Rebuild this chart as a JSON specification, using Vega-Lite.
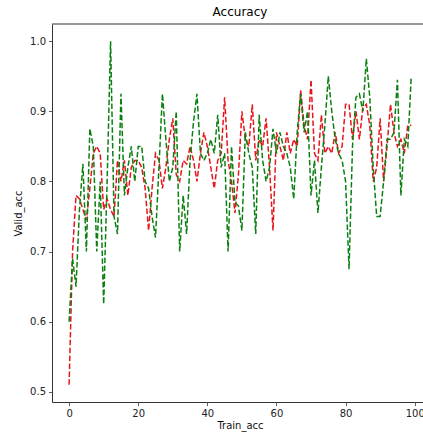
{
  "$schema": "https://vega.github.io/schema/vega-lite/v6.json",
  "width": 373,
  "height": 378,
  "autosize": {"type": "none"},
  "padding": {"left": 52, "top": 24, "right": 0, "bottom": 35},
  "background": "white",
  "title": {"text": "Accuracy", "font": "DejaVu Sans", "fontSize": 12, "fontWeight": "normal", "color": "#000000", "offset": 5, "dx": 1.5},
  "datasets": {"acc": [
    {"x":0,"red":0.51,"green":0.60},{"x":1,"red":0.70,"green":0.69},{"x":2,"red":0.78,"green":0.65},{"x":3,"red":0.775,"green":0.76},{"x":4,"red":0.76,"green":0.825},
    {"x":5,"red":0.745,"green":0.70},{"x":6,"red":0.79,"green":0.875},{"x":7,"red":0.84,"green":0.85},{"x":8,"red":0.85,"green":0.70},{"x":9,"red":0.84,"green":0.80},
    {"x":10,"red":0.76,"green":0.625},{"x":11,"red":0.775,"green":0.80},{"x":12,"red":0.76,"green":1.0},{"x":13,"red":0.75,"green":0.75},{"x":14,"red":0.83,"green":0.725},
    {"x":15,"red":0.80,"green":0.925},{"x":16,"red":0.83,"green":0.78},{"x":17,"red":0.78,"green":0.82},{"x":18,"red":0.82,"green":0.85},{"x":19,"red":0.83,"green":0.80},
    {"x":20,"red":0.83,"green":0.85},{"x":21,"red":0.82,"green":0.85},{"x":22,"red":0.79,"green":0.80},{"x":23,"red":0.73,"green":0.79},{"x":24,"red":0.79,"green":0.75},
    {"x":25,"red":0.84,"green":0.72},{"x":26,"red":0.83,"green":0.82},{"x":27,"red":0.79,"green":0.925},{"x":28,"red":0.82,"green":0.86},{"x":29,"red":0.86,"green":0.80},
    {"x":30,"red":0.89,"green":0.82},{"x":31,"red":0.81,"green":0.90},{"x":32,"red":0.80,"green":0.70},{"x":33,"red":0.83,"green":0.78},{"x":34,"red":0.825,"green":0.725},
    {"x":35,"red":0.85,"green":0.83},{"x":36,"red":0.83,"green":0.885},{"x":37,"red":0.80,"green":0.925},{"x":38,"red":0.84,"green":0.84},{"x":39,"red":0.87,"green":0.83},
    {"x":40,"red":0.85,"green":0.84},{"x":41,"red":0.82,"green":0.86},{"x":42,"red":0.79,"green":0.84},{"x":43,"red":0.83,"green":0.895},{"x":44,"red":0.84,"green":0.82},
    {"x":45,"red":0.92,"green":0.84},{"x":46,"red":0.83,"green":0.70},{"x":47,"red":0.80,"green":0.85},{"x":48,"red":0.755,"green":0.77},{"x":49,"red":0.81,"green":0.765},
    {"x":50,"red":0.90,"green":0.73},{"x":51,"red":0.86,"green":0.87},{"x":52,"red":0.85,"green":0.84},{"x":53,"red":0.91,"green":0.82},{"x":54,"red":0.83,"green":0.725},
    {"x":55,"red":0.86,"green":0.895},{"x":56,"red":0.85,"green":0.83},{"x":57,"red":0.89,"green":0.80},{"x":58,"red":0.82,"green":0.82},{"x":59,"red":0.73,"green":0.875},
    {"x":60,"red":0.87,"green":0.84},{"x":61,"red":0.85,"green":0.87},{"x":62,"red":0.83,"green":0.85},{"x":63,"red":0.87,"green":0.84},{"x":64,"red":0.84,"green":0.82},
    {"x":65,"red":0.86,"green":0.775},{"x":66,"red":0.85,"green":0.87},{"x":67,"red":0.93,"green":0.925},{"x":68,"red":0.88,"green":0.87},{"x":69,"red":0.86,"green":0.90},
    {"x":70,"red":0.945,"green":0.78},{"x":71,"red":0.84,"green":0.83},{"x":72,"red":0.83,"green":0.755},{"x":73,"red":0.895,"green":0.82},{"x":74,"red":0.84,"green":0.88},
    {"x":75,"red":0.85,"green":0.95},{"x":76,"red":0.84,"green":0.90},{"x":77,"red":0.87,"green":0.86},{"x":78,"red":0.84,"green":0.84},{"x":79,"red":0.85,"green":0.83},
    {"x":80,"red":0.91,"green":0.80},{"x":81,"red":0.91,"green":0.675},{"x":82,"red":0.86,"green":0.85},{"x":83,"red":0.90,"green":0.92},{"x":84,"red":0.86,"green":0.925},
    {"x":85,"red":0.905,"green":0.90},{"x":86,"red":0.91,"green":0.975},{"x":87,"red":0.88,"green":0.92},{"x":88,"red":0.80,"green":0.82},{"x":89,"red":0.82,"green":0.75},
    {"x":90,"red":0.89,"green":0.75},{"x":91,"red":0.80,"green":0.80},{"x":92,"red":0.85,"green":0.86},{"x":93,"red":0.91,"green":0.86},{"x":94,"red":0.87,"green":0.87},
    {"x":95,"red":0.85,"green":0.945},{"x":96,"red":0.86,"green":0.78},{"x":97,"red":0.84,"green":0.86},{"x":98,"red":0.88,"green":0.85},{"x":99,"red":0.88,"green":0.95}
  ], "frame": [{"top": 1.0245}]},
  "layer": [
    {"data": {"name": "acc"},
     "mark": {"type": "line", "color": "#e8141c", "strokeWidth": 1.5, "strokeDash": [5.5, 2.4], "clip": true},
     "encoding": {
       "x": {"field": "x", "type": "quantitative", "title": "Train_acc",
         "scale": {"domain": [-4.95, 102.98], "nice": false, "zero": false},
         "axis": {"values": [0, 20, 40, 60, 80, 100], "format": "d", "titleX": 188, "titlePadding": 2}},
       "y": {"field": "red", "type": "quantitative", "title": "Valid_acc",
         "scale": {"domain": [0.4855, 1.0245], "nice": false, "zero": false},
         "axis": {"values": [0.5, 0.6, 0.7, 0.8, 0.9, 1.0], "format": ".1f", "titleX": -34, "titleY": 189, "titleAngle": 270, "titleBaseline": "middle", "titleAlign": "center"}}}},
    {"data": {"name": "acc"},
     "mark": {"type": "line", "color": "#0a800f", "strokeWidth": 1.5, "strokeDash": [5.5, 2.4], "clip": true},
     "encoding": {
       "x": {"field": "x", "type": "quantitative"},
       "y": {"field": "green", "type": "quantitative"}}},
    {"data": {"name": "frame"},
     "mark": {"type": "rule", "color": "#333333", "strokeWidth": 1},
     "encoding": {"y": {"field": "top", "type": "quantitative"}}}
  ],
  "config": {
    "view": {"stroke": null},
    "axis": {"grid": false, "domainColor": "#333333", "domainWidth": 1, "tickColor": "#333333", "tickSize": 3.5, "tickWidth": 0.8,
      "labelPadding": 3, "labelFont": "DejaVu Sans", "labelFontSize": 10, "labelColor": "#222222",
      "titleFont": "DejaVu Sans", "titleFontSize": 10, "titleFontWeight": "normal", "titleColor": "#111111"}
  }
}
